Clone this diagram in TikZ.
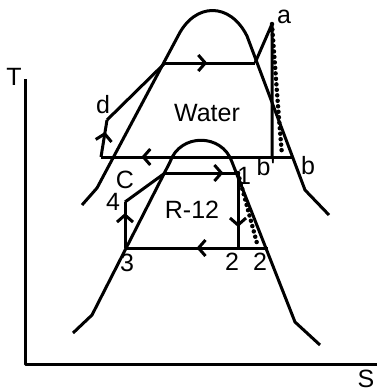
\documentclass[tikz,border=0pt]{standalone}
\usepackage{fontspec}
\setmainfont{Liberation Sans}
\usetikzlibrary{decorations.markings,arrows.meta}
\begin{document}
\begin{tikzpicture}[x=1pt,y=-1pt,line width=3pt,line join=round,
  lbl/.style={inner sep=0pt,font=\fontsize{25}{25}\selectfont},
  dots/.style={line width=4.5pt,line cap=round,dash pattern=on 0pt off 5.5pt},
  arr/.style={postaction={decorate},decoration={markings,
    mark=at position #1 with {\arrow{Straight Barb[length=7pt,width=16pt,line width=3pt]}}}}]
\useasboundingbox (0,0) rectangle (377,392);
% axes
\coordinate (O) at (25,364);
\coordinate (Ttop) at (25,79);
\coordinate (Send) at (377,364);
\draw (Ttop) -- (O) -- (Send);
\node[lbl] (T) at (14,77) {T};
\node[lbl] (S) at (366,379) {S};
% water dome
\coordinate (wl0) at (82,205);
\coordinate (wl1) at (97,188);
\coordinate (wl2) at (178,36);
\coordinate (wr2) at (247,36);
\coordinate (wr1) at (305,190);
\coordinate (wr0) at (329,215);
\draw (wl0) -- (wl1) -- (wl2) .. controls (195,2) and (230,2) .. (wr2) -- (wr1) -- (wr0);
% R-12 dome
\coordinate (rl0) at (73,333);
\coordinate (rl1) at (92,315);
\coordinate (rl2) at (170,162);
\coordinate (rr2) at (232,162);
\coordinate (rr1) at (295,322);
\coordinate (rr0) at (320,345);
\draw (rl0) -- (rl1) -- (rl2) .. controls (180,133) and (222,133) .. (rr2) -- (rr1) -- (rr0);
% water cycle
\coordinate (d) at (107,120);
\coordinate (wsl) at (165,63);
\coordinate (wsv) at (255,63);
\coordinate (a) at (272,24);
\coordinate (bp) at (272,157);
\coordinate (b) at (293,157);
\coordinate (c) at (101,157);
\coordinate (adot) at (282,155);
\draw (d) -- (wsl);
\draw[arr=0.47] (wsl) -- (wsv);
\draw (wsv) -- (a) -- (bp);
\draw[arr=0.79] (b) -- (c);
\draw[arr=0.68] (c) -- (d);
\draw[dots] (a) .. controls (276,80) and (279,120) .. (adot);
% R-12 cycle
\coordinate (p4) at (125,202);
\coordinate (rsl) at (165,173);
\coordinate (p1) at (238,173);
\coordinate (p2) at (238,248);
\coordinate (p2s) at (268,248);
\coordinate (p3) at (125,248);
\coordinate (p2dot) at (258,247);
\draw (p4) -- (rsl);
\draw[arr=0.8] (rsl) -- (p1);
\draw[arr=0.72] (p1) -- (p2);
\draw[arr=0.5] (p2s) -- (p3);
\draw[arr=0.76] (p3) -- (p4);
\draw[dots] (p1) -- (p2dot);
% labels
\node[lbl] (la) at (284,17) {a};
\node[lbl] (ld) at (103,105) {d};
\node[lbl] (lw) at (207,113) {Water};
\node[lbl] (lC) at (125,180) {C};
\node[lbl] (lbp) at (266,167) {b\textquotesingle};
\node[lbl] (lb) at (308,166) {b};
\node[lbl] (l1) at (244,176) {1};
\node[lbl] (l4) at (113,202) {4};
\node[lbl] (l3) at (127,263) {3};
\node[lbl] (l2) at (232,262) {2};
\node[lbl] (l2s) at (260,262) {2};
\node[lbl] (lr) at (192,210) {R-12};
\end{tikzpicture}
\end{document}
